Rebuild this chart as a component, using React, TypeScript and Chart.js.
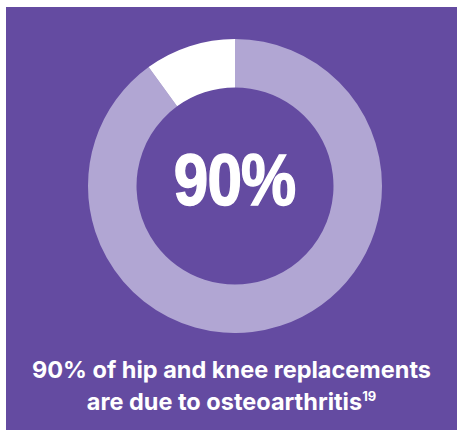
import React, { useEffect, useRef } from "react";
import { Chart, registerables } from "chart.js";

Chart.register(...registerables);

const labels = ["Due to osteoarthritis", "Other causes"];
const values = [90, 10];
const colors = ["#b1a6d3", "#ffffff"];
const centerLabel = "90%";

export default function App() {
  const ref = useRef<HTMLCanvasElement | null>(null);
  useEffect(() => {
    if (!ref.current) return;
    const chart = new Chart(ref.current, {
      type: "doughnut",
      data: {
        labels,
        datasets: [
          {
            data: values,
            backgroundColor: colors,
            borderWidth: 0,
          },
        ],
      },
      options: {
        responsive: false,
        animation: false,
        cutout: "67%",
        layout: { padding: 0 },
        plugins: { legend: { display: false }, tooltip: { enabled: false } },
      },
    });
    return () => chart.destroy();
  }, []);
  return (
    <div
      style={{
        position: "absolute",
        left: 6,
        top: 7,
        width: 451,
        height: 423,
        background: "#644ba1",
        overflow: "hidden",
      }}
    >
      <canvas
        ref={ref}
        width={294}
        height={294}
        style={{ position: "absolute", left: 82, top: 32, width: 294, height: 294 }}
      />
      <div
        style={{
          position: "absolute",
          left: 0,
          width: 451,
          top: 133,
          textAlign: "center",
          color: "#fff",
          fontFamily: "'Liberation Sans', Arial, sans-serif",
          fontWeight: 700,
          fontSize: 73,
          lineHeight: "80px",
          paddingLeft: 6,
          boxSizing: "border-box",
        }}
      >
        <span
          style={{
            display: "inline-block",
            transform: "scaleX(0.85)",
            letterSpacing: -1,
            WebkitTextStroke: "1.5px #fff",
          }}
        >
          {centerLabel}
        </span>
      </div>
      <div
        style={{
          position: "absolute",
          left: 0,
          width: 451,
          top: 347,
          textAlign: "center",
          color: "#fff",
          fontFamily: "Inter, Roboto, sans-serif",
          fontWeight: 700,
          fontSize: 23.5,
          lineHeight: "32px",
        }}
      >
        90% of hip and knee replacements
        <br />
        are due to osteoarthritis<sup style={{ fontSize: 13, verticalAlign: "top", lineHeight: "20px" }}>19</sup>
      </div>
    </div>
  );
}
